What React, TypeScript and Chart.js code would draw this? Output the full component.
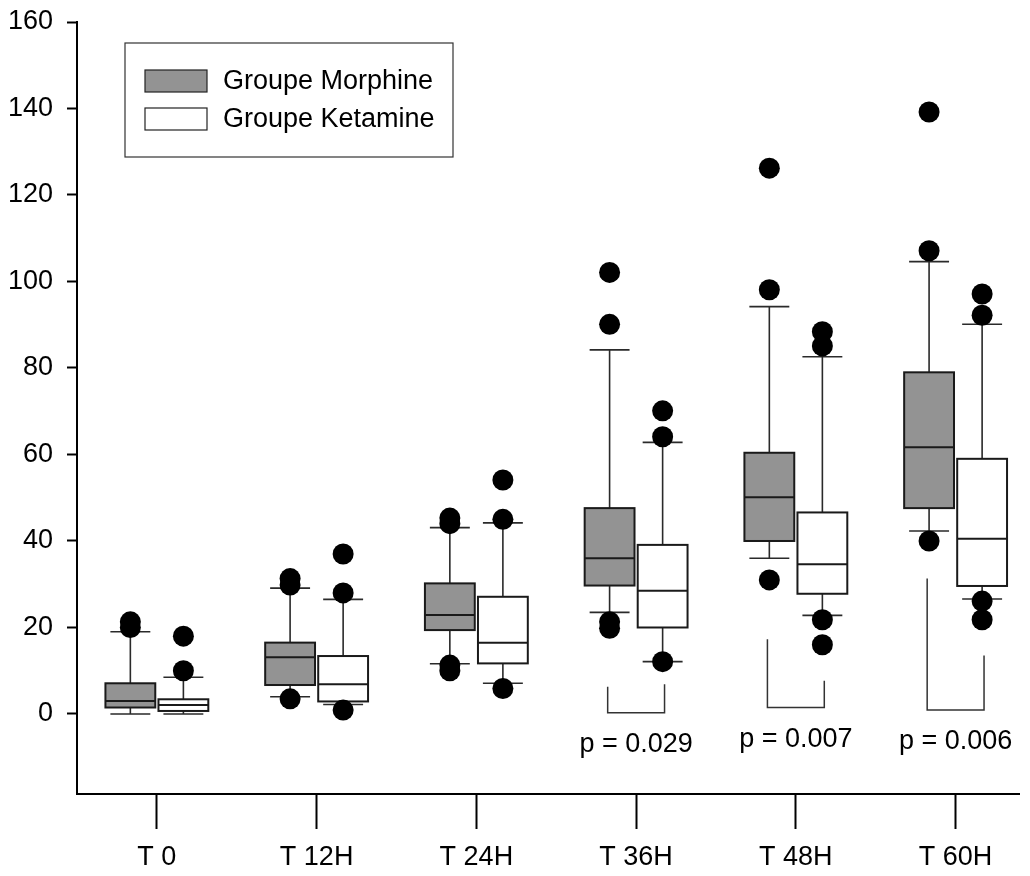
import React, { useEffect, useRef } from "react";
import { Chart, registerables } from "chart.js";

Chart.register(...registerables);

const categories = ["T 0", "T 12H", "T 24H", "T 36H", "T 48H", "T 60H"];
const seriesNames = ["Groupe Morphine", "Groupe Ketamine"];
const yTickValues = [0, 20, 40, 60, 80, 100, 120, 140, 160];

// [lower whisker, Q1, median, Q3, upper whisker]
const morphineStats = [
  [0, 1.5, 3.0, 7.1, 19.0],
  [4.0, 6.7, 13.1, 16.5, 29.1],
  [11.6, 19.4, 22.9, 30.2, 43.1],
  [23.5, 29.7, 36.0, 47.6, 84.2],
  [36.0, 40.0, 50.1, 60.4, 94.2],
  [42.3, 47.6, 61.7, 79.0, 104.6],
];
const ketamineStats = [
  [0, 0.7, 2.1, 3.4, 8.5],
  [2.2, 2.9, 6.9, 13.4, 26.5],
  [7.1, 11.7, 16.5, 27.1, 44.2],
  [12.1, 20.0, 28.5, 39.1, 62.8],
  [22.8, 27.8, 34.6, 46.6, 82.6],
  [26.6, 29.6, 40.5, 59.0, 90.1],
];
const morphineOutliers = [
  [20.0, 21.3],
  [3.5, 29.8, 31.3],
  [10.0, 11.3, 44.0, 45.3],
  [19.8, 21.3, 90.1, 102.1],
  [31.0, 98.1, 126.2],
  [40.0, 107.1, 139.2],
];
const ketamineOutliers = [
  [10.0, 18.0],
  [0.9, 28.0, 37.0],
  [5.9, 45.0, 54.1],
  [12.1, 64.1, 70.1],
  [16.0, 21.8, 85.1, 88.4],
  [21.8, 26.1, 92.2, 97.1],
];

const pLabels = ["p = 0.029", "p = 0.007", "p = 0.006"];
const pCategoryIndex = [3, 4, 5];
const bracketLeftTop = [6.3, 17.3, 31.3];
const bracketRightTop = [6.9, 7.7, 13.5];
const bracketBottom = [0.3, 1.5, 0.9];

const FONT = "'Liberation Sans', Arial, sans-serif";
const FONT_SIZE = 27;
const OFFSET = 0.166;
const BOX_HALF = 0.156;
const CAP_HALF = 0.125;
const ARM_OFFSET = 0.178;
const COLORS = ["#939393", "#ffffff"];

const boxPlugin = {
  id: "boxPlot",
  beforeDatasetsDraw(chart: any) {
    const { ctx, scales } = chart;
    const xs = scales.x;
    const ys = scales.y;
    const drawSeries = (stats: number[][], off: number, fill: string) => {
      stats.forEach((s, i) => {
        const [lo, q1, med, q3, hi] = s;
        const cx = xs.getPixelForValue(i + off);
        const bl = xs.getPixelForValue(i + off - BOX_HALF);
        const br = xs.getPixelForValue(i + off + BOX_HALF);
        const cl = xs.getPixelForValue(i + off - CAP_HALF);
        const cr = xs.getPixelForValue(i + off + CAP_HALF);
        const yLo = ys.getPixelForValue(lo);
        const yQ1 = ys.getPixelForValue(q1);
        const yMed = ys.getPixelForValue(med);
        const yQ3 = ys.getPixelForValue(q3);
        const yHi = ys.getPixelForValue(hi);
        ctx.save();
        ctx.strokeStyle = "#2a2a2a";
        ctx.lineWidth = 1.6;
        ctx.beginPath();
        ctx.moveTo(cx, yQ3);
        ctx.lineTo(cx, yHi);
        ctx.moveTo(cx, yQ1);
        ctx.lineTo(cx, yLo);
        ctx.moveTo(cl, yHi);
        ctx.lineTo(cr, yHi);
        ctx.moveTo(cl, yLo);
        ctx.lineTo(cr, yLo);
        ctx.stroke();
        ctx.fillStyle = fill;
        ctx.fillRect(bl, yQ3, br - bl, yQ1 - yQ3);
        ctx.strokeStyle = "#1a1a1a";
        ctx.lineWidth = 2;
        ctx.strokeRect(bl, yQ3, br - bl, yQ1 - yQ3);
        ctx.beginPath();
        ctx.moveTo(bl, yMed);
        ctx.lineTo(br, yMed);
        ctx.stroke();
        ctx.restore();
      });
    };
    drawSeries(morphineStats, -OFFSET, COLORS[0]);
    drawSeries(ketamineStats, OFFSET, COLORS[1]);
  },
  afterDatasetsDraw(chart: any) {
    const { ctx, scales, chartArea } = chart;
    const xs = scales.x;
    const ys = scales.y;
    ctx.save();
    // brackets and p-values
    pLabels.forEach((label, k) => {
      const i = pCategoryIndex[k];
      const xl = xs.getPixelForValue(i - ARM_OFFSET);
      const xr = xs.getPixelForValue(i + ARM_OFFSET);
      const yb = ys.getPixelForValue(bracketBottom[k]);
      ctx.strokeStyle = "#333";
      ctx.lineWidth = 1.5;
      ctx.beginPath();
      ctx.moveTo(xl, ys.getPixelForValue(bracketLeftTop[k]));
      ctx.lineTo(xl, yb);
      ctx.lineTo(xr, yb);
      ctx.lineTo(xr, ys.getPixelForValue(bracketRightTop[k]));
      ctx.stroke();
      ctx.fillStyle = "#000";
      ctx.font = `${FONT_SIZE}px ${FONT}`;
      ctx.textAlign = "center";
      ctx.textBaseline = "alphabetic";
      ctx.fillText(label, xs.getPixelForValue(i), yb + 39);
    });
    // legend
    const lx = chartArea.left + 48;
    const ly = chartArea.top + 21;
    ctx.fillStyle = "#fff";
    ctx.fillRect(lx, ly, 328, 114);
    ctx.strokeStyle = "#333";
    ctx.lineWidth = 1.2;
    ctx.strokeRect(lx, ly, 328, 114);
    seriesNames.forEach((name, k) => {
      const cy = ly + 38 + k * 38;
      ctx.fillStyle = COLORS[k];
      ctx.fillRect(lx + 20, cy - 11, 62, 22);
      ctx.strokeStyle = "#222";
      ctx.lineWidth = 1.2;
      ctx.strokeRect(lx + 20, cy - 11, 62, 22);
      ctx.fillStyle = "#000";
      ctx.font = `${FONT_SIZE}px ${FONT}`;
      ctx.textAlign = "left";
      ctx.textBaseline = "middle";
      ctx.fillText(name, lx + 98, cy + 1);
    });
    ctx.restore();
  },
};

function toPoints(outliers: number[][], off: number) {
  const pts: { x: number; y: number }[] = [];
  outliers.forEach((vals, i) => vals.forEach((v) => pts.push({ x: i + off, y: v })));
  return pts;
}

export default function App() {
  const canvasRef = useRef<HTMLCanvasElement | null>(null);
  useEffect(() => {
    if (!canvasRef.current) return;
    const chart = new Chart(canvasRef.current, {
      type: "scatter",
      data: {
        datasets: [
          {
            label: seriesNames[0],
            data: toPoints(morphineOutliers, -OFFSET),
            backgroundColor: "#000",
            borderWidth: 0,
            pointRadius: 10.5,
          },
          {
            label: seriesNames[1],
            data: toPoints(ketamineOutliers, OFFSET),
            backgroundColor: "#000",
            borderWidth: 0,
            pointRadius: 10.5,
          },
        ],
      },
      options: {
        responsive: false,
        animation: false,
        events: [],
        layout: { padding: { left: 10, top: 0, right: 10, bottom: 4 } },
        plugins: { legend: { display: false }, tooltip: { enabled: false } },
        scales: {
          x: {
            type: "linear",
            min: -0.5,
            max: 5.4,
            afterBuildTicks: (scale: any) => {
              scale.ticks = categories.map((_, i) => ({ value: i }));
            },
            afterFit: (scale: any) => {
              scale.height = 78;
            },
            ticks: {
              autoSkip: false,
              maxRotation: 0,
              padding: 12,
              color: "#000",
              font: { size: FONT_SIZE, family: FONT },
              callback: (v: any) => categories[v as number] ?? "",
            },
            grid: {
              display: true,
              drawOnChartArea: false,
              drawTicks: true,
              tickLength: 35,
              tickColor: "#000",
              tickWidth: 2,
            },
            border: { display: true, color: "#000", width: 2 },
          },
          y: {
            type: "linear",
            min: -18.5,
            max: 160,
            afterBuildTicks: (scale: any) => {
              scale.ticks = yTickValues.map((v) => ({ value: v }));
            },
            afterFit: (scale: any) => {
              scale.width = 67;
              scale.paddingTop = 22;
              scale.paddingBottom = 0;
            },
            ticks: {
              padding: 14,
              color: "#000",
              font: { size: FONT_SIZE, family: FONT },
              callback: (v: any) => String(v),
            },
            grid: {
              display: true,
              drawOnChartArea: false,
              drawTicks: true,
              tickLength: 10,
              tickColor: "#000",
              tickWidth: 2,
            },
            border: { display: true, color: "#000", width: 2 },
          },
        },
      },
      plugins: [boxPlugin],
    });
    return () => chart.destroy();
  }, []);
  return (
    <div style={{ position: "absolute", left: 0, top: 0, width: 1030, height: 876, background: "#fff" }}>
      <canvas ref={canvasRef} width={1030} height={876} style={{ display: "block" }} />
    </div>
  );
}
